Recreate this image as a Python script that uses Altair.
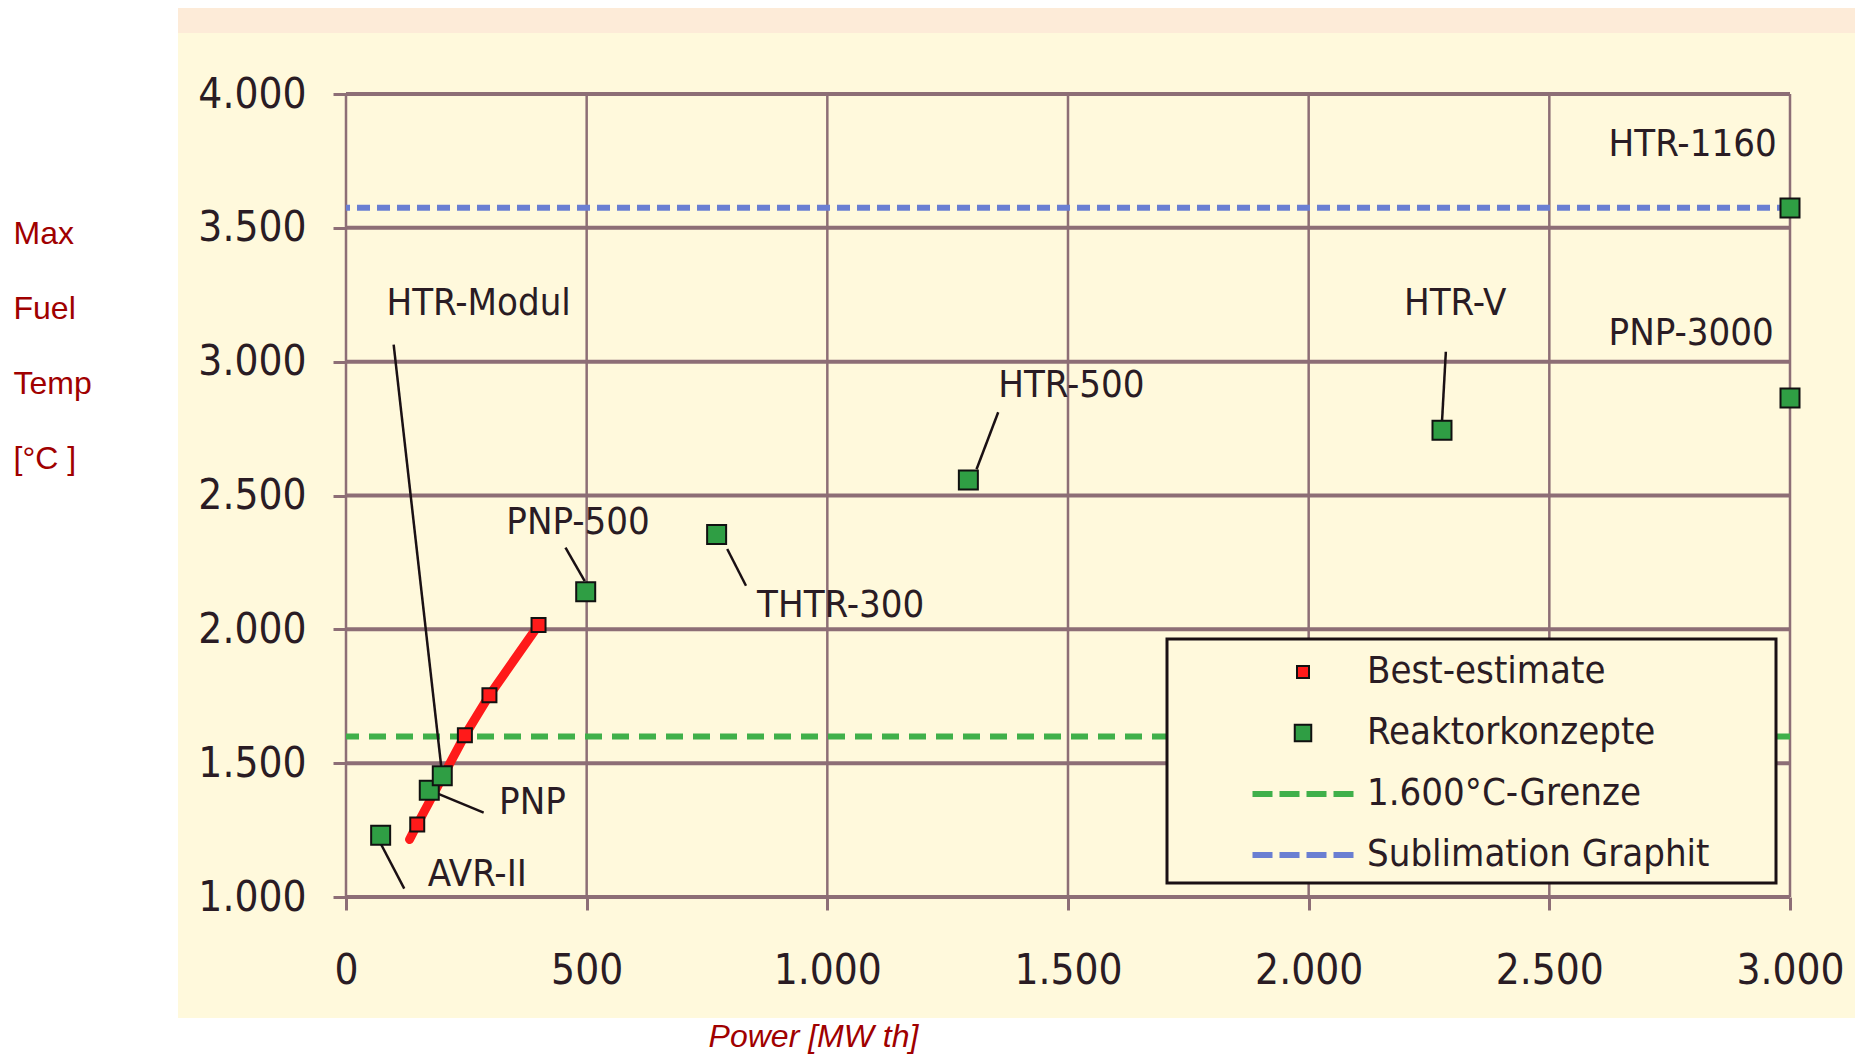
import altair as alt
import pandas as pd

# ---------------- data ----------------
best_power = [148, 247, 298, 400]
best_temp = [1271, 1604, 1754, 2016]
trend_power = [132, 148, 247, 298, 400]
trend_temp = [1215, 1271, 1604, 1754, 2016]

reactor_names = ["AVR-II", "PNP", "HTR-Modul", "PNP-500", "THTR-300",
                 "HTR-500", "HTR-V", "HTR-1160", "PNP-3000"]
reactor_power = [72, 173, 200, 498, 770, 1293, 2277, 3000, 3000]
reactor_temp = [1231, 1399, 1453, 2140, 2354, 2558, 2744, 3574, 2864]

# annotation labels (data coordinates)
label_text = ["HTR-Modul", "PNP", "AVR-II", "PNP-500", "THTR-300",
              "HTR-500", "HTR-V", "HTR-1160", "PNP-3000"]
label_power = [84, 318, 170, 333, 854, 1355, 2198, 2623, 2623]
label_temp = [3215, 1351, 1084, 2398, 2087, 2908, 3215, 3809, 3104]

# leader lines (data coordinates)
leader_p1 = [99, 173, 72, 456, 792, 1355, 2285]
leader_t1 = [3064, 1399, 1200, 2305, 2300, 2811, 3037]
leader_p2 = [200, 286, 121, 496, 831, 1310, 2277]
leader_t2 = [1453, 1315, 1031, 2180, 2163, 2598, 2775]

fuel_limit = [1600]
sublimation = [3575]

x_ticks = [0, 500, 1000, 1500, 2000, 2500, 3000]
y_ticks = [1000, 1500, 2000, 2500, 3000, 3500, 4000]

legend_series = ["Best-estimate", "Reaktorkonzepte", "1.600°C-Grenze", "Sublimation Graphit"]

# ---------------- styles ----------------
NARROW = "DejaVu Sans Condensed, Liberation Sans Narrow, sans-serif"
ARIAL = "Liberation Sans, Arial, sans-serif"
TXT = "#2a1c24"
DARKRED = "#a00000"
GRID = "#8d6e76"
YELLOW = "#fff9dc"
PEACH = "#fdebd8"
GREEN = "#2f9e44"
GREEN_DASH = "#40b04a"
BLUE_DASH = "#6a7fd2"
RED = "#ff1a1a"

W, H = 1444, 803

dash_path = ("M-3.3,-0.13h1.2v0.26h-1.2z M-1.5,-0.13h1.2v0.26h-1.2z "
             "M0.3,-0.13h1.2v0.26h-1.2z M2.1,-0.13h1.2v0.26h-1.2z")
red_sq = "M-0.4,-0.4h0.8v0.8h-0.8z"
green_sq = "M-0.55,-0.55h1.1v1.1h-1.1z"
legend_fill = [RED, GREEN, GREEN_DASH, BLUE_DASH]
legend_stroke = ["#111111", "#111111", GREEN_DASH, BLUE_DASH]
legend_shape = [red_sq, green_sq, dash_path, dash_path]

xscale = alt.Scale(domain=[0, 3000], nice=False, zero=False)
yscale = alt.Scale(domain=[1000, 4000], nice=False, zero=False)

german = "replace(format(datum.value, ','), ',', '.')"

xaxis = alt.Axis(values=x_ticks, grid=False, domain=False, ticks=True, tickSize=13,
                 tickColor=GRID, tickWidth=3, labelExpr=german, labelFont=NARROW,
                 labelFontSize=42, labelColor=TXT, labelPadding=40, labelBaseline="top",
                 labelFlush=False, labelOverlap=False, zindex=1,
                 title="Power [MW th]", titleFont=ARIAL, titleFontSize=32,
                 titleFontStyle="italic", titleFontWeight="normal", titleColor=DARKRED,
                 titleX=467, titleY=149, titleAlign="center", titleBaseline="alphabetic",
                 titleAnchor="start")
yaxis = alt.Axis(values=y_ticks, grid=False, domain=False, ticks=True, tickSize=13,
                 tickColor=GRID, tickWidth=3, labelExpr=german, labelFont=NARROW,
                 labelFontSize=42, labelColor=TXT, labelPadding=27, labelBaseline="middle",
                 labelFlush=False, labelOverlap=False, zindex=1,
                 title=["Max", "Fuel", "Temp", "[°C ]"], titleFont=ARIAL, titleFontSize=32,
                 titleFontWeight="normal", titleColor=DARKRED, titleAngle=0,
                 titleAlign="left", titleBaseline="alphabetic", titleX=-333, titleY=149,
                 titleLineHeight=75, titleAnchor="start")


def X(f):
    return alt.X(f, type="quantitative", scale=xscale, axis=xaxis)


def Y(f):
    return alt.Y(f, type="quantitative", scale=yscale, axis=yaxis)


one = pd.DataFrame({"k": [0]})

bg = alt.Chart(one).mark_rect(color=YELLOW).encode(
    x=alt.value(-168), x2=alt.value(1509), y=alt.value(-90), y2=alt.value(924))
strip = alt.Chart(one).mark_rect(color=PEACH).encode(
    x=alt.value(-168), x2=alt.value(1509), y=alt.value(-90), y2=alt.value(-61))

grid_h = alt.Chart(pd.DataFrame({"t": y_ticks})).mark_rule(
    color=GRID, strokeWidth=4).encode(y=Y("t"))
grid_v = alt.Chart(pd.DataFrame({"p": x_ticks})).mark_rule(
    color=GRID, strokeWidth=2.5).encode(x=X("p"))

fuel_rule = alt.Chart(pd.DataFrame({"t": fuel_limit})).mark_rule(
    color=GREEN_DASH, strokeWidth=6, strokeDash=[17, 10]).encode(y=Y("t"))
subl_rule = alt.Chart(pd.DataFrame({"t": sublimation})).mark_rule(
    color=BLUE_DASH, strokeWidth=6, strokeDash=[13, 7]).encode(y=Y("t"))

legend_box = alt.Chart(one).mark_rect(fill=YELLOW, stroke="#1a1014", strokeWidth=3).encode(
    x=alt.value(821), x2=alt.value(1430), y=alt.value(545), y2=alt.value(789))

trend = alt.Chart(pd.DataFrame({"p": trend_power, "t": trend_temp})).mark_line(
    color=RED, strokeWidth=9, strokeCap="round").encode(x=X("p"), y=Y("t"), order="p:Q")

leaders = alt.Chart(pd.DataFrame({"p1": leader_p1, "t1": leader_t1,
                                  "p2": leader_p2, "t2": leader_t2})).mark_rule(
    color="#1a1014", strokeWidth=2.5).encode(x=X("p1"), y=Y("t1"), x2="p2", y2="t2")

best_pts = alt.Chart(pd.DataFrame({"p": best_power, "t": best_temp})).mark_square(
    size=196, fill=RED, stroke="#111111", strokeWidth=2, opacity=1).encode(x=X("p"), y=Y("t"))

reactor_pts = alt.Chart(pd.DataFrame({"name": reactor_names, "p": reactor_power,
                                      "t": reactor_temp})).mark_square(
    size=361, fill=GREEN, stroke="#111111", strokeWidth=2, opacity=1).encode(x=X("p"), y=Y("t"))

labels = alt.Chart(pd.DataFrame({"txt": label_text, "p": label_power, "t": label_temp})).mark_text(
    align="left", baseline="middle", font=NARROW, fontSize=38, color=TXT).encode(
    x=X("p"), y=Y("t"), text="txt:N")

leg = alt.Legend(title=None, orient="none", legendX=938, legendY=559, padding=0,
                 symbolSize=900, symbolStrokeWidth=2, symbolOpacity=1,
                 labelFont=NARROW, labelFontSize=38, labelColor=TXT, labelOffset=45,
                 rowPadding=23, labelLimit=600, strokeColor=None)
legend_layer = alt.Chart(pd.DataFrame({"series": legend_series})).mark_point(
    filled=True, opacity=0).encode(
    color=alt.Color("series:N", scale=alt.Scale(domain=legend_series, range=legend_fill), legend=leg),
    stroke=alt.Stroke("series:N", scale=alt.Scale(domain=legend_series, range=legend_stroke), legend=leg),
    shape=alt.Shape("series:N", scale=alt.Scale(domain=legend_series, range=legend_shape), legend=leg),
)

chart = alt.layer(
    bg, strip, grid_h, grid_v, fuel_rule, subl_rule, legend_box, trend, leaders,
    best_pts, reactor_pts, labels, legend_layer
).properties(
    width=W, height=H,
    padding={"left": 338, "top": 86, "right": 65, "bottom": 157},
    autosize=alt.AutoSizeParams(type="none"),
    background="white",
).configure_view(stroke=None)

chart.save("out.html", embed_options={"renderer": "svg", "actions": False})
